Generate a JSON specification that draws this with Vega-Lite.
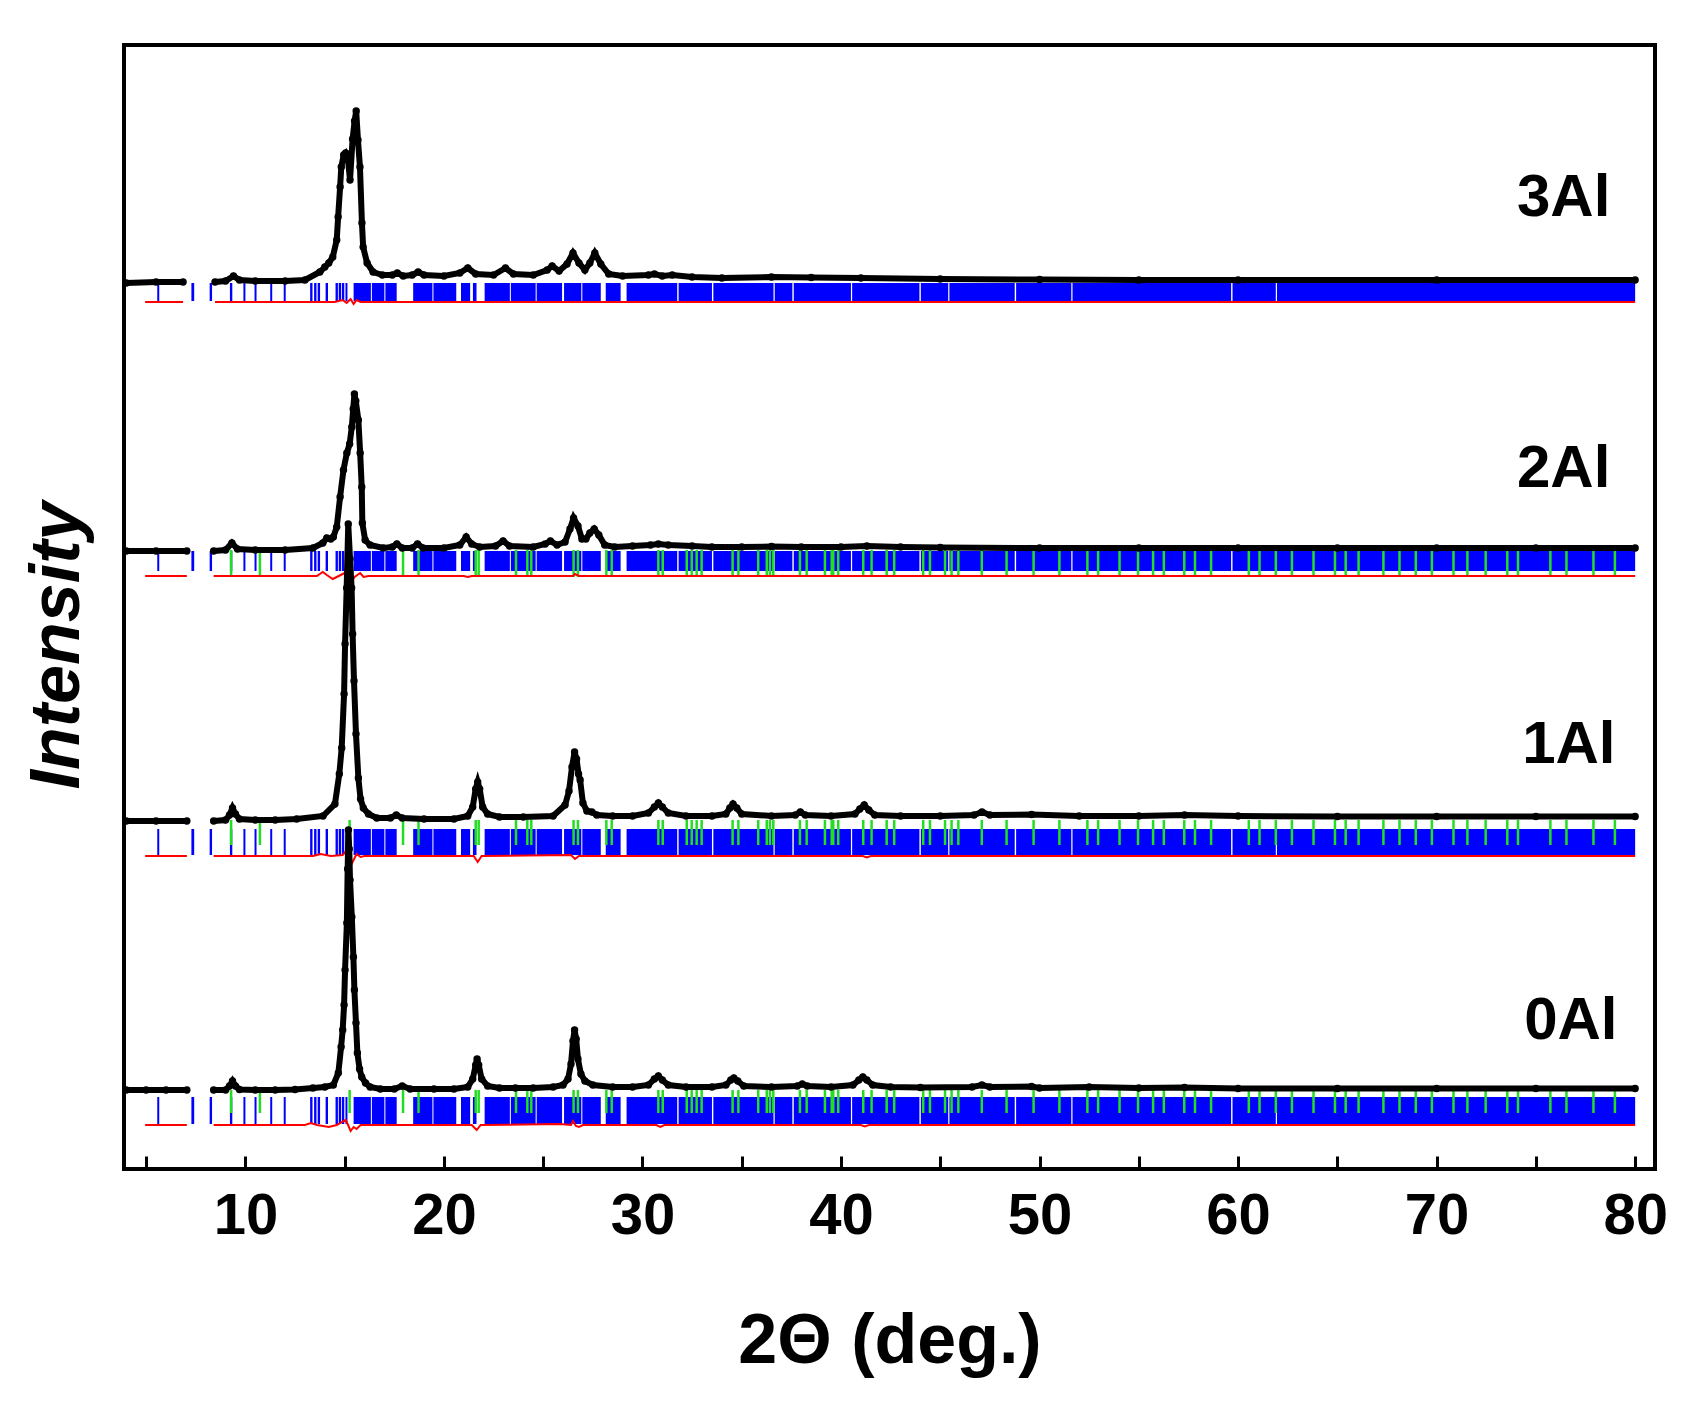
{
"$schema":"https://vega.github.io/schema/vega-lite/v6.json",
"width":1531,"height":1124,
"autosize":{"type":"none"},
"padding":{"left":124,"top":45,"right":33,"bottom":235},
"background":"white",
"config":{"view":{"stroke":"#000","strokeWidth":4},"font":"Liberation Sans"},
"datasets":{
"lv":[
{"s":"0Al","bTop":72,"bBot":45,"gTop":79,"gBot":56},
{"s":"1Al","bTop":340,"bBot":314,"gTop":349,"gBot":324},
{"s":"2Al","bTop":618,"bBot":598,"gTop":619,"gBot":592},
{"s":"3Al","bTop":886,"bBot":868,"gTop":888,"gBot":888}
],
"blue":[
{"t":5.56,"t2":5.66,"s":["0Al","1Al","2Al","3Al"]},
{"t":7.28,"t2":7.42,"s":["0Al","1Al","2Al","3Al"]},
{"t":8.2,"t2":8.32,"s":["0Al","1Al","2Al","3Al"]},
{"t":9.22,"t2":9.34,"s":["0Al","1Al","2Al","3Al"]},
{"t":9.9,"t2":10.0,"s":["0Al","1Al","2Al","3Al"]},
{"t":10.46,"t2":10.56,"s":["0Al","1Al","2Al","3Al"]},
{"t":11.25,"t2":11.35,"s":["0Al","1Al","2Al","3Al"]},
{"t":11.93,"t2":12.03,"s":["0Al","1Al","2Al","3Al"]},
{"t":13.26,"t2":13.38,"s":["0Al","1Al","2Al","3Al"]},
{"t":13.46,"t2":13.58,"s":["0Al","1Al","2Al","3Al"]},
{"t":13.64,"t2":13.76,"s":["0Al","1Al","2Al","3Al"]},
{"t":14.04,"t2":14.16,"s":["0Al","1Al","2Al","3Al"]},
{"t":14.54,"t2":14.66,"s":["0Al","1Al","2Al","3Al"]},
{"t":14.7,"t2":14.82,"s":["0Al","1Al","2Al","3Al"]},
{"t":14.86,"t2":14.98,"s":["0Al","1Al","2Al","3Al"]},
{"t":15.04,"t2":15.14,"s":["0Al","1Al","2Al","3Al"]},
{"t":15.45,"t2":16.32,"s":["0Al","1Al","2Al","3Al"]},
{"t":16.37,"t2":17.0,"s":["0Al","1Al","2Al","3Al"]},
{"t":17.05,"t2":17.62,"s":["0Al","1Al","2Al","3Al"]},
{"t":18.45,"t2":19.42,"s":["0Al","1Al","2Al","3Al"]},
{"t":19.47,"t2":20.62,"s":["0Al","1Al","2Al","3Al"]},
{"t":20.86,"t2":21.32,"s":["0Al","1Al","2Al","3Al"]},
{"t":21.46,"t2":21.64,"s":["0Al","1Al","2Al","3Al"]},
{"t":22.05,"t2":23.32,"s":["0Al","1Al","2Al","3Al"]},
{"t":23.37,"t2":24.62,"s":["0Al","1Al","2Al","3Al"]},
{"t":24.67,"t2":25.95,"s":["0Al","1Al","2Al","3Al"]},
{"t":26.05,"t2":26.92,"s":["0Al","1Al","2Al","3Al"]},
{"t":26.97,"t2":27.9,"s":["0Al","1Al","2Al","3Al"]},
{"t":28.15,"t2":28.9,"s":["0Al","1Al","2Al","3Al"]},
{"t":29.2,"t2":31.75,"s":["0Al","1Al","2Al","3Al"]},
{"t":31.82,"t2":33.5,"s":["0Al","1Al","2Al","3Al"]},
{"t":33.57,"t2":36.6,"s":["0Al","1Al","2Al","3Al"]},
{"t":36.66,"t2":37.55,"s":["0Al","1Al","2Al","3Al"]},
{"t":37.62,"t2":40.5,"s":["0Al","1Al","2Al","3Al"]},
{"t":40.56,"t2":43.95,"s":["0Al","1Al","2Al","3Al"]},
{"t":44.02,"t2":45.4,"s":["0Al","1Al","2Al","3Al"]},
{"t":45.46,"t2":48.75,"s":["0Al","1Al","2Al","3Al"]},
{"t":48.82,"t2":51.6,"s":["0Al","1Al","2Al","3Al"]},
{"t":51.66,"t2":59.65,"s":["0Al","1Al","2Al","3Al"]},
{"t":59.72,"t2":61.9,"s":["0Al","1Al","2Al","3Al"]},
{"t":61.96,"t2":80.0,"s":["0Al","1Al","2Al","3Al"]}
],
"green":[
{"t":9.28,"s":["0Al","1Al","2Al"]},{"t":10.73,"s":["0Al","1Al","2Al"]},{"t":15.25,"s":["0Al","1Al","2Al"]},{"t":17.94,"s":["0Al","1Al","2Al"]},
{"t":18.72,"s":["0Al","1Al","2Al"]},{"t":21.6,"s":["0Al","1Al","2Al"]},{"t":21.75,"s":["0Al","1Al","2Al"]},{"t":23.63,"s":["0Al","1Al","2Al"]},
{"t":24.2,"s":["0Al","1Al","2Al"]},{"t":24.4,"s":["0Al","1Al","2Al"]},{"t":26.53,"s":["0Al","1Al","2Al"]},{"t":26.75,"s":["0Al","1Al","2Al"]},
{"t":28.18,"s":["0Al","1Al","2Al"]},{"t":28.45,"s":["0Al","1Al","2Al"]},{"t":30.8,"s":["0Al","1Al","2Al"]},{"t":31.02,"s":["0Al","1Al","2Al"]},
{"t":32.23,"s":["0Al","1Al","2Al"]},{"t":32.48,"s":["0Al","1Al","2Al"]},{"t":32.73,"s":["0Al","1Al","2Al"]},{"t":32.98,"s":["0Al","1Al","2Al"]},
{"t":34.54,"s":["0Al","1Al","2Al"]},{"t":34.83,"s":["0Al","1Al","2Al"]},{"t":35.83,"s":["0Al","1Al","2Al"]},{"t":36.26,"s":["0Al","1Al","2Al"]},
{"t":36.42,"s":["0Al","1Al","2Al"]},{"t":36.59,"s":["0Al","1Al","2Al"]},{"t":37.93,"s":["0Al","1Al","2Al"]},{"t":38.27,"s":["0Al","1Al","2Al"]},
{"t":39.19,"s":["0Al","1Al","2Al"]},{"t":39.53,"s":["0Al","1Al","2Al"]},{"t":39.61,"s":["0Al","1Al","2Al"]},{"t":39.86,"s":["0Al","1Al","2Al"]},
{"t":41.12,"s":["0Al","1Al","2Al"]},{"t":41.54,"s":["0Al","1Al","2Al"]},{"t":42.3,"s":["0Al","1Al","2Al"]},{"t":42.68,"s":["0Al","1Al","2Al"]},
{"t":44.14,"s":["0Al","1Al","2Al"]},{"t":44.48,"s":["0Al","1Al","2Al"]},{"t":45.24,"s":["0Al","1Al","2Al"]},{"t":45.57,"s":["0Al","1Al","2Al"]},
{"t":45.91,"s":["0Al","1Al","2Al"]},{"t":47.09,"s":["0Al","1Al","2Al"]},{"t":48.34,"s":["0Al","1Al","2Al"]},{"t":49.7,"s":["0Al","1Al","2Al"]},
{"t":51.0,"s":["0Al","1Al","2Al"]},{"t":52.41,"s":["0Al","1Al","2Al"]},{"t":52.95,"s":["0Al","1Al","2Al"]},{"t":54.03,"s":["0Al","1Al","2Al"]},
{"t":54.96,"s":["0Al","1Al","2Al"]},{"t":55.72,"s":["0Al","1Al","2Al"]},{"t":56.26,"s":["0Al","1Al","2Al"]},{"t":57.29,"s":["0Al","1Al","2Al"]},
{"t":57.83,"s":["0Al","1Al","2Al"]},{"t":58.64,"s":["0Al","1Al","2Al"]},{"t":60.54,"s":["0Al","1Al","2Al"]},{"t":61.08,"s":["0Al","1Al","2Al"]},
{"t":61.9,"s":["0Al","1Al","2Al"]},{"t":62.71,"s":["0Al","1Al","2Al"]},{"t":63.8,"s":["0Al","1Al","2Al"]},{"t":64.88,"s":["0Al","1Al","2Al"]},
{"t":65.42,"s":["0Al","1Al","2Al"]},{"t":66.07,"s":["0Al","1Al","2Al"]},{"t":67.32,"s":["0Al","1Al","2Al"]},{"t":68.13,"s":["0Al","1Al","2Al"]},
{"t":68.95,"s":["0Al","1Al","2Al"]},{"t":69.76,"s":["0Al","1Al","2Al"]},{"t":70.85,"s":["0Al","1Al","2Al"]},{"t":71.55,"s":["0Al","1Al","2Al"]},
{"t":72.47,"s":["0Al","1Al","2Al"]},{"t":73.56,"s":["0Al","1Al","2Al"]},{"t":74.1,"s":["0Al","1Al","2Al"]},{"t":75.73,"s":["0Al","1Al","2Al"]},
{"t":76.54,"s":["0Al","1Al","2Al"]},{"t":77.9,"s":["0Al","1Al","2Al"]},{"t":78.98,"s":["0Al","1Al","2Al"]}
],
"diff":[
{"s":"0Al","g":"a","t":4.95,"i":44},{"s":"0Al","g":"a","t":7.05,"i":44},
{"s":"0Al","g":"b","t":8.4,"i":44},{"s":"0Al","g":"b","t":13.0,"i":44},{"s":"0Al","g":"b","t":13.3,"i":46},{"s":"0Al","g":"b","t":13.6,"i":44},{"s":"0Al","g":"b","t":14.2,"i":42},{"s":"0Al","g":"b","t":14.6,"i":44},{"s":"0Al","g":"b","t":15.05,"i":49},{"s":"0Al","g":"b","t":15.15,"i":45},{"s":"0Al","g":"b","t":15.3,"i":38},{"s":"0Al","g":"b","t":15.45,"i":42},{"s":"0Al","g":"b","t":15.6,"i":40},{"s":"0Al","g":"b","t":15.8,"i":44},{"s":"0Al","g":"b","t":21.4,"i":44},{"s":"0Al","g":"b","t":21.65,"i":39},{"s":"0Al","g":"b","t":21.85,"i":44},{"s":"0Al","g":"b","t":25.8,"i":45},{"s":"0Al","g":"b","t":26.4,"i":44},{"s":"0Al","g":"b","t":26.5,"i":48},{"s":"0Al","g":"b","t":26.65,"i":43},{"s":"0Al","g":"b","t":26.8,"i":42},{"s":"0Al","g":"b","t":27.0,"i":44},{"s":"0Al","g":"b","t":30.7,"i":44},{"s":"0Al","g":"b","t":30.9,"i":42},{"s":"0Al","g":"b","t":31.1,"i":44},{"s":"0Al","g":"b","t":41.0,"i":44},{"s":"0Al","g":"b","t":41.2,"i":42.5},{"s":"0Al","g":"b","t":41.4,"i":44},{"s":"0Al","g":"b","t":80,"i":44},
{"s":"1Al","g":"a","t":4.95,"i":313},{"s":"1Al","g":"a","t":7.05,"i":313},
{"s":"1Al","g":"b","t":8.4,"i":313},{"s":"1Al","g":"b","t":13.4,"i":313},{"s":"1Al","g":"b","t":13.8,"i":315},{"s":"1Al","g":"b","t":14.3,"i":313},{"s":"1Al","g":"b","t":14.9,"i":314},{"s":"1Al","g":"b","t":15.1,"i":319},{"s":"1Al","g":"b","t":15.2,"i":314},{"s":"1Al","g":"b","t":15.3,"i":303},{"s":"1Al","g":"b","t":15.45,"i":309},{"s":"1Al","g":"b","t":15.6,"i":315},{"s":"1Al","g":"b","t":15.8,"i":312},{"s":"1Al","g":"b","t":16.0,"i":313},{"s":"1Al","g":"b","t":21.5,"i":313},{"s":"1Al","g":"b","t":21.7,"i":307},{"s":"1Al","g":"b","t":21.9,"i":313},{"s":"1Al","g":"b","t":26.4,"i":314},{"s":"1Al","g":"b","t":26.6,"i":310},{"s":"1Al","g":"b","t":26.8,"i":313},{"s":"1Al","g":"b","t":41.1,"i":313},{"s":"1Al","g":"b","t":41.3,"i":311.5},{"s":"1Al","g":"b","t":41.5,"i":313},{"s":"1Al","g":"b","t":80,"i":313},
{"s":"2Al","g":"a","t":4.95,"i":593},{"s":"2Al","g":"a","t":7.05,"i":593},
{"s":"2Al","g":"b","t":8.4,"i":593},{"s":"2Al","g":"b","t":13.6,"i":593},{"s":"2Al","g":"b","t":13.9,"i":597},{"s":"2Al","g":"b","t":14.1,"i":594},{"s":"2Al","g":"b","t":14.4,"i":590},{"s":"2Al","g":"b","t":14.6,"i":592},{"s":"2Al","g":"b","t":15.1,"i":597},{"s":"2Al","g":"b","t":15.3,"i":586},{"s":"2Al","g":"b","t":15.5,"i":592},{"s":"2Al","g":"b","t":15.78,"i":596},{"s":"2Al","g":"b","t":15.95,"i":592},{"s":"2Al","g":"b","t":16.2,"i":593},{"s":"2Al","g":"b","t":21.0,"i":593},{"s":"2Al","g":"b","t":21.2,"i":592},{"s":"2Al","g":"b","t":21.4,"i":593},{"s":"2Al","g":"b","t":26.5,"i":593},{"s":"2Al","g":"b","t":26.6,"i":595},{"s":"2Al","g":"b","t":26.8,"i":593},{"s":"2Al","g":"b","t":80,"i":593},
{"s":"3Al","g":"a","t":4.95,"i":867},{"s":"3Al","g":"a","t":6.86,"i":867},
{"s":"3Al","g":"b","t":8.47,"i":867},{"s":"3Al","g":"b","t":14.5,"i":867},{"s":"3Al","g":"b","t":14.9,"i":869},{"s":"3Al","g":"b","t":15.1,"i":866},{"s":"3Al","g":"b","t":15.3,"i":870},{"s":"3Al","g":"b","t":15.45,"i":865},{"s":"3Al","g":"b","t":15.6,"i":869},{"s":"3Al","g":"b","t":15.8,"i":867},{"s":"3Al","g":"b","t":80,"i":867}
],
"obs":[
{"s":"0Al","g":"a","t":4.0,"i":79},{"s":"0Al","g":"a","t":5.0,"i":79},{"s":"0Al","g":"a","t":6.0,"i":79},{"s":"0Al","g":"a","t":7.05,"i":79},
{"s":"0Al","g":"b","t":8.4,"i":79},{"s":"0Al","g":"b","t":9.0,"i":79},{"s":"0Al","g":"b","t":9.2,"i":83},{"s":"0Al","g":"b","t":9.35,"i":88},{"s":"0Al","g":"b","t":9.5,"i":83},{"s":"0Al","g":"b","t":9.7,"i":79.5},{"s":"0Al","g":"b","t":10.5,"i":79},{"s":"0Al","g":"b","t":11.5,"i":79},{"s":"0Al","g":"b","t":12.5,"i":79.5},{"s":"0Al","g":"b","t":13.4,"i":81},{"s":"0Al","g":"b","t":14.0,"i":82},{"s":"0Al","g":"b","t":14.43,"i":84},{"s":"0Al","g":"b","t":14.68,"i":96},{"s":"0Al","g":"b","t":14.82,"i":122},{"s":"0Al","g":"b","t":14.9,"i":139},{"s":"0Al","g":"b","t":14.97,"i":164},{"s":"0Al","g":"b","t":15.02,"i":199},{"s":"0Al","g":"b","t":15.11,"i":246},{"s":"0Al","g":"b","t":15.15,"i":300},{"s":"0Al","g":"b","t":15.19,"i":339},{"s":"0Al","g":"b","t":15.23,"i":320},{"s":"0Al","g":"b","t":15.27,"i":289},{"s":"0Al","g":"b","t":15.36,"i":252},{"s":"0Al","g":"b","t":15.44,"i":212},{"s":"0Al","g":"b","t":15.49,"i":179},{"s":"0Al","g":"b","t":15.57,"i":146},{"s":"0Al","g":"b","t":15.64,"i":116},{"s":"0Al","g":"b","t":15.75,"i":100},{"s":"0Al","g":"b","t":15.86,"i":92},{"s":"0Al","g":"b","t":16.05,"i":86},{"s":"0Al","g":"b","t":16.28,"i":82},{"s":"0Al","g":"b","t":16.8,"i":80},{"s":"0Al","g":"b","t":17.5,"i":80},{"s":"0Al","g":"b","t":17.9,"i":83},{"s":"0Al","g":"b","t":18.3,"i":80},{"s":"0Al","g":"b","t":19.5,"i":80},{"s":"0Al","g":"b","t":20.5,"i":80},{"s":"0Al","g":"b","t":21.2,"i":82},{"s":"0Al","g":"b","t":21.45,"i":90},{"s":"0Al","g":"b","t":21.6,"i":104},{"s":"0Al","g":"b","t":21.67,"i":110},{"s":"0Al","g":"b","t":21.75,"i":104},{"s":"0Al","g":"b","t":21.9,"i":90},{"s":"0Al","g":"b","t":22.2,"i":83},{"s":"0Al","g":"b","t":22.8,"i":81},{"s":"0Al","g":"b","t":23.6,"i":81},{"s":"0Al","g":"b","t":24.5,"i":81},{"s":"0Al","g":"b","t":25.5,"i":82},{"s":"0Al","g":"b","t":26.0,"i":84},{"s":"0Al","g":"b","t":26.25,"i":90},{"s":"0Al","g":"b","t":26.4,"i":105},{"s":"0Al","g":"b","t":26.5,"i":128},{"s":"0Al","g":"b","t":26.58,"i":139},{"s":"0Al","g":"b","t":26.66,"i":130},{"s":"0Al","g":"b","t":26.75,"i":110},{"s":"0Al","g":"b","t":26.9,"i":95},{"s":"0Al","g":"b","t":27.1,"i":88},{"s":"0Al","g":"b","t":27.5,"i":84},{"s":"0Al","g":"b","t":28.5,"i":82},{"s":"0Al","g":"b","t":29.5,"i":82},{"s":"0Al","g":"b","t":30.3,"i":84},{"s":"0Al","g":"b","t":30.6,"i":90},{"s":"0Al","g":"b","t":30.8,"i":93},{"s":"0Al","g":"b","t":31.0,"i":89},{"s":"0Al","g":"b","t":31.3,"i":84},{"s":"0Al","g":"b","t":32.2,"i":82},{"s":"0Al","g":"b","t":33.5,"i":82},{"s":"0Al","g":"b","t":34.2,"i":84},{"s":"0Al","g":"b","t":34.45,"i":89},{"s":"0Al","g":"b","t":34.6,"i":91},{"s":"0Al","g":"b","t":34.8,"i":88},{"s":"0Al","g":"b","t":35.1,"i":83},{"s":"0Al","g":"b","t":36.5,"i":82},{"s":"0Al","g":"b","t":37.8,"i":83},{"s":"0Al","g":"b","t":38.05,"i":85},{"s":"0Al","g":"b","t":38.3,"i":83},{"s":"0Al","g":"b","t":39.5,"i":82},{"s":"0Al","g":"b","t":40.6,"i":84},{"s":"0Al","g":"b","t":40.9,"i":89},{"s":"0Al","g":"b","t":41.1,"i":92},{"s":"0Al","g":"b","t":41.3,"i":89},{"s":"0Al","g":"b","t":41.6,"i":84},{"s":"0Al","g":"b","t":42.5,"i":82},{"s":"0Al","g":"b","t":44,"i":81.5},{"s":"0Al","g":"b","t":46.6,"i":82},{"s":"0Al","g":"b","t":47.1,"i":84},{"s":"0Al","g":"b","t":47.5,"i":82},{"s":"0Al","g":"b","t":49.6,"i":82.5},{"s":"0Al","g":"b","t":50,"i":81},{"s":"0Al","g":"b","t":52.5,"i":82},{"s":"0Al","g":"b","t":55,"i":81},{"s":"0Al","g":"b","t":57.3,"i":81.5},{"s":"0Al","g":"b","t":60,"i":80.5},{"s":"0Al","g":"b","t":65,"i":80.5},{"s":"0Al","g":"b","t":70,"i":80.5},{"s":"0Al","g":"b","t":75,"i":80.5},{"s":"0Al","g":"b","t":80,"i":80.5},
{"s":"1Al","g":"a","t":4.0,"i":348},{"s":"1Al","g":"a","t":5.5,"i":348},{"s":"1Al","g":"a","t":7.05,"i":348},
{"s":"1Al","g":"b","t":8.4,"i":348},{"s":"1Al","g":"b","t":9.0,"i":349},{"s":"1Al","g":"b","t":9.2,"i":354},{"s":"1Al","g":"b","t":9.35,"i":361},{"s":"1Al","g":"b","t":9.5,"i":355},{"s":"1Al","g":"b","t":9.7,"i":350},{"s":"1Al","g":"b","t":10.5,"i":349},{"s":"1Al","g":"b","t":11.5,"i":349},{"s":"1Al","g":"b","t":12.58,"i":350},{"s":"1Al","g":"b","t":13.91,"i":353},{"s":"1Al","g":"b","t":14.51,"i":365},{"s":"1Al","g":"b","t":14.73,"i":395},{"s":"1Al","g":"b","t":14.85,"i":421},{"s":"1Al","g":"b","t":14.97,"i":475},{"s":"1Al","g":"b","t":15.02,"i":525},{"s":"1Al","g":"b","t":15.1,"i":581},{"s":"1Al","g":"b","t":15.18,"i":645},{"s":"1Al","g":"b","t":15.27,"i":610},{"s":"1Al","g":"b","t":15.35,"i":581},{"s":"1Al","g":"b","t":15.4,"i":535},{"s":"1Al","g":"b","t":15.47,"i":488},{"s":"1Al","g":"b","t":15.57,"i":435},{"s":"1Al","g":"b","t":15.69,"i":391},{"s":"1Al","g":"b","t":15.8,"i":370},{"s":"1Al","g":"b","t":15.94,"i":361},{"s":"1Al","g":"b","t":16.2,"i":355},{"s":"1Al","g":"b","t":16.62,"i":351},{"s":"1Al","g":"b","t":17.3,"i":351},{"s":"1Al","g":"b","t":17.6,"i":354},{"s":"1Al","g":"b","t":17.9,"i":351},{"s":"1Al","g":"b","t":19,"i":350},{"s":"1Al","g":"b","t":20.5,"i":350},{"s":"1Al","g":"b","t":21.2,"i":353},{"s":"1Al","g":"b","t":21.45,"i":362},{"s":"1Al","g":"b","t":21.6,"i":380},{"s":"1Al","g":"b","t":21.7,"i":387},{"s":"1Al","g":"b","t":21.8,"i":380},{"s":"1Al","g":"b","t":21.95,"i":362},{"s":"1Al","g":"b","t":22.2,"i":355},{"s":"1Al","g":"b","t":22.8,"i":352},{"s":"1Al","g":"b","t":24,"i":352},{"s":"1Al","g":"b","t":25.5,"i":353},{"s":"1Al","g":"b","t":26.1,"i":364},{"s":"1Al","g":"b","t":26.3,"i":378},{"s":"1Al","g":"b","t":26.45,"i":402},{"s":"1Al","g":"b","t":26.58,"i":417},{"s":"1Al","g":"b","t":26.68,"i":410},{"s":"1Al","g":"b","t":26.78,"i":395},{"s":"1Al","g":"b","t":26.86,"i":389},{"s":"1Al","g":"b","t":27.0,"i":366},{"s":"1Al","g":"b","t":27.2,"i":358},{"s":"1Al","g":"b","t":27.45,"i":357},{"s":"1Al","g":"b","t":27.7,"i":354},{"s":"1Al","g":"b","t":28.5,"i":353},{"s":"1Al","g":"b","t":29.5,"i":353},{"s":"1Al","g":"b","t":30.3,"i":356},{"s":"1Al","g":"b","t":30.6,"i":362},{"s":"1Al","g":"b","t":30.8,"i":366},{"s":"1Al","g":"b","t":31.0,"i":362},{"s":"1Al","g":"b","t":31.3,"i":356},{"s":"1Al","g":"b","t":32.2,"i":353},{"s":"1Al","g":"b","t":33.5,"i":353},{"s":"1Al","g":"b","t":34.2,"i":355},{"s":"1Al","g":"b","t":34.4,"i":361},{"s":"1Al","g":"b","t":34.56,"i":365},{"s":"1Al","g":"b","t":34.75,"i":361},{"s":"1Al","g":"b","t":35.0,"i":355},{"s":"1Al","g":"b","t":36.5,"i":353},{"s":"1Al","g":"b","t":37.7,"i":354},{"s":"1Al","g":"b","t":37.95,"i":357},{"s":"1Al","g":"b","t":38.2,"i":354},{"s":"1Al","g":"b","t":39.5,"i":353},{"s":"1Al","g":"b","t":40.7,"i":355},{"s":"1Al","g":"b","t":40.95,"i":360},{"s":"1Al","g":"b","t":41.17,"i":364},{"s":"1Al","g":"b","t":41.4,"i":359},{"s":"1Al","g":"b","t":41.7,"i":354},{"s":"1Al","g":"b","t":43,"i":353},{"s":"1Al","g":"b","t":45,"i":353},{"s":"1Al","g":"b","t":46.7,"i":354},{"s":"1Al","g":"b","t":47.1,"i":357},{"s":"1Al","g":"b","t":47.5,"i":354},{"s":"1Al","g":"b","t":49.6,"i":354.5},{"s":"1Al","g":"b","t":52,"i":353},{"s":"1Al","g":"b","t":55,"i":353},{"s":"1Al","g":"b","t":57.3,"i":354},{"s":"1Al","g":"b","t":60,"i":353},{"s":"1Al","g":"b","t":65,"i":352.5},{"s":"1Al","g":"b","t":70,"i":352.5},{"s":"1Al","g":"b","t":75,"i":352.5},{"s":"1Al","g":"b","t":80,"i":352.5},
{"s":"2Al","g":"a","t":4.0,"i":618},{"s":"2Al","g":"a","t":5.5,"i":618},{"s":"2Al","g":"a","t":7.05,"i":618},
{"s":"2Al","g":"b","t":8.4,"i":618},{"s":"2Al","g":"b","t":9.0,"i":619},{"s":"2Al","g":"b","t":9.32,"i":626},{"s":"2Al","g":"b","t":9.6,"i":620},{"s":"2Al","g":"b","t":10.5,"i":619},{"s":"2Al","g":"b","t":12,"i":619},{"s":"2Al","g":"b","t":13.4,"i":621},{"s":"2Al","g":"b","t":13.9,"i":626},{"s":"2Al","g":"b","t":14.1,"i":631},{"s":"2Al","g":"b","t":14.3,"i":630},{"s":"2Al","g":"b","t":14.43,"i":632},{"s":"2Al","g":"b","t":14.6,"i":642},{"s":"2Al","g":"b","t":14.77,"i":672},{"s":"2Al","g":"b","t":14.94,"i":699},{"s":"2Al","g":"b","t":15.11,"i":716},{"s":"2Al","g":"b","t":15.25,"i":725},{"s":"2Al","g":"b","t":15.36,"i":742},{"s":"2Al","g":"b","t":15.43,"i":760},{"s":"2Al","g":"b","t":15.49,"i":775},{"s":"2Al","g":"b","t":15.56,"i":768},{"s":"2Al","g":"b","t":15.69,"i":749},{"s":"2Al","g":"b","t":15.78,"i":716},{"s":"2Al","g":"b","t":15.86,"i":682},{"s":"2Al","g":"b","t":15.89,"i":646},{"s":"2Al","g":"b","t":16.03,"i":629},{"s":"2Al","g":"b","t":16.28,"i":624},{"s":"2Al","g":"b","t":16.94,"i":621},{"s":"2Al","g":"b","t":17.4,"i":622},{"s":"2Al","g":"b","t":17.63,"i":625},{"s":"2Al","g":"b","t":17.9,"i":621},{"s":"2Al","g":"b","t":18.4,"i":621},{"s":"2Al","g":"b","t":18.67,"i":625},{"s":"2Al","g":"b","t":18.95,"i":621},{"s":"2Al","g":"b","t":20,"i":621},{"s":"2Al","g":"b","t":20.8,"i":624},{"s":"2Al","g":"b","t":21.12,"i":632},{"s":"2Al","g":"b","t":21.4,"i":625},{"s":"2Al","g":"b","t":21.8,"i":622},{"s":"2Al","g":"b","t":22.6,"i":623},{"s":"2Al","g":"b","t":22.98,"i":628},{"s":"2Al","g":"b","t":23.3,"i":623},{"s":"2Al","g":"b","t":24.5,"i":622},{"s":"2Al","g":"b","t":25.1,"i":625},{"s":"2Al","g":"b","t":25.36,"i":628},{"s":"2Al","g":"b","t":25.7,"i":624},{"s":"2Al","g":"b","t":26.1,"i":627},{"s":"2Al","g":"b","t":26.35,"i":640},{"s":"2Al","g":"b","t":26.53,"i":651},{"s":"2Al","g":"b","t":26.75,"i":643},{"s":"2Al","g":"b","t":26.95,"i":630},{"s":"2Al","g":"b","t":27.15,"i":630},{"s":"2Al","g":"b","t":27.35,"i":636},{"s":"2Al","g":"b","t":27.57,"i":640},{"s":"2Al","g":"b","t":27.8,"i":634},{"s":"2Al","g":"b","t":28.1,"i":624},{"s":"2Al","g":"b","t":28.6,"i":622},{"s":"2Al","g":"b","t":29.5,"i":623},{"s":"2Al","g":"b","t":30.4,"i":624},{"s":"2Al","g":"b","t":30.8,"i":625},{"s":"2Al","g":"b","t":31.3,"i":624},{"s":"2Al","g":"b","t":32.5,"i":623},{"s":"2Al","g":"b","t":33.5,"i":622},{"s":"2Al","g":"b","t":35,"i":622},{"s":"2Al","g":"b","t":36.5,"i":622.5},{"s":"2Al","g":"b","t":38,"i":622},{"s":"2Al","g":"b","t":40,"i":622},{"s":"2Al","g":"b","t":41.3,"i":623},{"s":"2Al","g":"b","t":43,"i":622},{"s":"2Al","g":"b","t":45,"i":621.5},{"s":"2Al","g":"b","t":50,"i":621},{"s":"2Al","g":"b","t":55,"i":621},{"s":"2Al","g":"b","t":60,"i":621},{"s":"2Al","g":"b","t":65,"i":621},{"s":"2Al","g":"b","t":70,"i":621},{"s":"2Al","g":"b","t":75,"i":621},{"s":"2Al","g":"b","t":80,"i":621},
{"s":"3Al","g":"a","t":4.0,"i":886},{"s":"3Al","g":"a","t":5.5,"i":887},{"s":"3Al","g":"a","t":6.86,"i":887},
{"s":"3Al","g":"b","t":8.47,"i":887},{"s":"3Al","g":"b","t":9.0,"i":888},{"s":"3Al","g":"b","t":9.4,"i":893},{"s":"3Al","g":"b","t":9.7,"i":889},{"s":"3Al","g":"b","t":10.5,"i":888},{"s":"3Al","g":"b","t":12,"i":888},{"s":"3Al","g":"b","t":13.0,"i":889},{"s":"3Al","g":"b","t":13.75,"i":897},{"s":"3Al","g":"b","t":14.0,"i":902},{"s":"3Al","g":"b","t":14.2,"i":906},{"s":"3Al","g":"b","t":14.4,"i":912},{"s":"3Al","g":"b","t":14.6,"i":929},{"s":"3Al","g":"b","t":14.67,"i":952},{"s":"3Al","g":"b","t":14.77,"i":982},{"s":"3Al","g":"b","t":14.83,"i":1002},{"s":"3Al","g":"b","t":14.95,"i":1014},{"s":"3Al","g":"b","t":15.05,"i":1016},{"s":"3Al","g":"b","t":15.15,"i":1012},{"s":"3Al","g":"b","t":15.27,"i":989},{"s":"3Al","g":"b","t":15.4,"i":1030},{"s":"3Al","g":"b","t":15.5,"i":1048},{"s":"3Al","g":"b","t":15.58,"i":1058},{"s":"3Al","g":"b","t":15.67,"i":1029},{"s":"3Al","g":"b","t":15.77,"i":1002},{"s":"3Al","g":"b","t":15.87,"i":946},{"s":"3Al","g":"b","t":15.93,"i":922},{"s":"3Al","g":"b","t":16.13,"i":906},{"s":"3Al","g":"b","t":16.43,"i":897},{"s":"3Al","g":"b","t":16.9,"i":894},{"s":"3Al","g":"b","t":17.4,"i":894},{"s":"3Al","g":"b","t":17.65,"i":896},{"s":"3Al","g":"b","t":17.95,"i":893},{"s":"3Al","g":"b","t":18.4,"i":894},{"s":"3Al","g":"b","t":18.7,"i":897},{"s":"3Al","g":"b","t":19.0,"i":894},{"s":"3Al","g":"b","t":20,"i":893},{"s":"3Al","g":"b","t":20.8,"i":896},{"s":"3Al","g":"b","t":21.2,"i":901},{"s":"3Al","g":"b","t":21.6,"i":895},{"s":"3Al","g":"b","t":22.5,"i":894},{"s":"3Al","g":"b","t":23.1,"i":901},{"s":"3Al","g":"b","t":23.5,"i":895},{"s":"3Al","g":"b","t":24.5,"i":894},{"s":"3Al","g":"b","t":25.2,"i":899},{"s":"3Al","g":"b","t":25.45,"i":903},{"s":"3Al","g":"b","t":25.8,"i":898},{"s":"3Al","g":"b","t":26.2,"i":905},{"s":"3Al","g":"b","t":26.5,"i":916},{"s":"3Al","g":"b","t":26.8,"i":906},{"s":"3Al","g":"b","t":27.1,"i":899},{"s":"3Al","g":"b","t":27.35,"i":906},{"s":"3Al","g":"b","t":27.6,"i":916},{"s":"3Al","g":"b","t":27.9,"i":905},{"s":"3Al","g":"b","t":28.3,"i":895},{"s":"3Al","g":"b","t":29,"i":893},{"s":"3Al","g":"b","t":30.3,"i":894},{"s":"3Al","g":"b","t":30.6,"i":895},{"s":"3Al","g":"b","t":31.0,"i":893},{"s":"3Al","g":"b","t":31.5,"i":894},{"s":"3Al","g":"b","t":32.5,"i":892},{"s":"3Al","g":"b","t":34,"i":891},{"s":"3Al","g":"b","t":36.5,"i":892},{"s":"3Al","g":"b","t":38.5,"i":891.5},{"s":"3Al","g":"b","t":41,"i":891},{"s":"3Al","g":"b","t":45,"i":890},{"s":"3Al","g":"b","t":50,"i":889.5},{"s":"3Al","g":"b","t":55,"i":889},{"s":"3Al","g":"b","t":60,"i":889},{"s":"3Al","g":"b","t":70,"i":889},{"s":"3Al","g":"b","t":80,"i":889}
],
"lab":[
{"s":"3Al","t":76.4,"i":971.5},
{"s":"2Al","t":76.4,"i":700.5},
{"s":"1Al","t":76.66,"i":424.5},
{"s":"0Al","t":76.76,"i":148.5}
]
},
"encoding":{
"x":{"field":"t","type":"quantitative","scale":{"domain":[3.885,81],"nice":false,"zero":false},
"axis":{"title":"2Θ (deg.)","values":[5,10,15,20,25,30,35,40,45,50,55,60,65,70,75,80],"format":"d",
"labelExpr":"datum.value % 10 === 0 ? datum.label : ''","labelFont":"Liberation Sans","labelFontSize":58,"labelFontWeight":"bold","labelColor":"#000","labelPadding":31,"labelFlush":false,"labelOverlap":false,
"tickSize":-13,"tickWidth":3,"tickColor":"#000",
"domain":false,"grid":false,
"titleFont":"Liberation Sans","titleFontSize":70,"titleFontWeight":"bold","titleColor":"#000","titleY":193,"titleBaseline":"alphabetic"}},
"y":{"field":"i","type":"quantitative","scale":{"domain":[0,1124],"nice":false,"zero":false},
"axis":{"title":"Intensity","labels":false,"ticks":false,"domain":false,"grid":false,
"titleFont":"Liberation Sans","titleFontSize":70,"titleFontWeight":"bold","titleFontStyle":"italic","titleColor":"#000",
"titleAngle":-90,"titleX":-46,"titleY":600,"titleAlign":"center","titleBaseline":"alphabetic"}}
},
"layer":[
{
"data":{"name":"blue"},
"transform":[{"flatten":["s"]},{"lookup":"s","from":{"data":{"name":"lv"},"key":"s","fields":["bTop","bBot"]},"as":["i","i2"]}],
"mark":{"type":"rect","color":"#0000ff"},
"encoding":{"x2":{"field":"t2"},"y2":{"field":"i2"}}
},
{
"data":{"name":"green"},
"transform":[{"flatten":["s"]},{"lookup":"s","from":{"data":{"name":"lv"},"key":"s","fields":["gTop","gBot"]},"as":["i","i2"]}],
"mark":{"type":"rule","color":"#22dd22","strokeWidth":2.5},
"encoding":{"y2":{"field":"i2"}}
},
{
"data":{"name":"diff"},
"mark":{"type":"line","color":"#ff0000","strokeWidth":2},
"encoding":{"detail":[{"field":"s"},{"field":"g"}]}
},
{
"data":{"name":"obs"},
"mark":{"type":"line","color":"#000","strokeWidth":6},
"encoding":{"detail":[{"field":"s"},{"field":"g"}]}
},
{
"data":{"name":"obs"},
"mark":{"type":"point","shape":"circle","filled":true,"color":"#000","size":55,"opacity":1},
"encoding":{}
},
{
"data":{"name":"lab"},
"mark":{"type":"text","font":"Liberation Sans","fontSize":60,"fontWeight":"bold","color":"#000","align":"center","baseline":"middle"},
"encoding":{"text":{"field":"s"}}
}
]
}
